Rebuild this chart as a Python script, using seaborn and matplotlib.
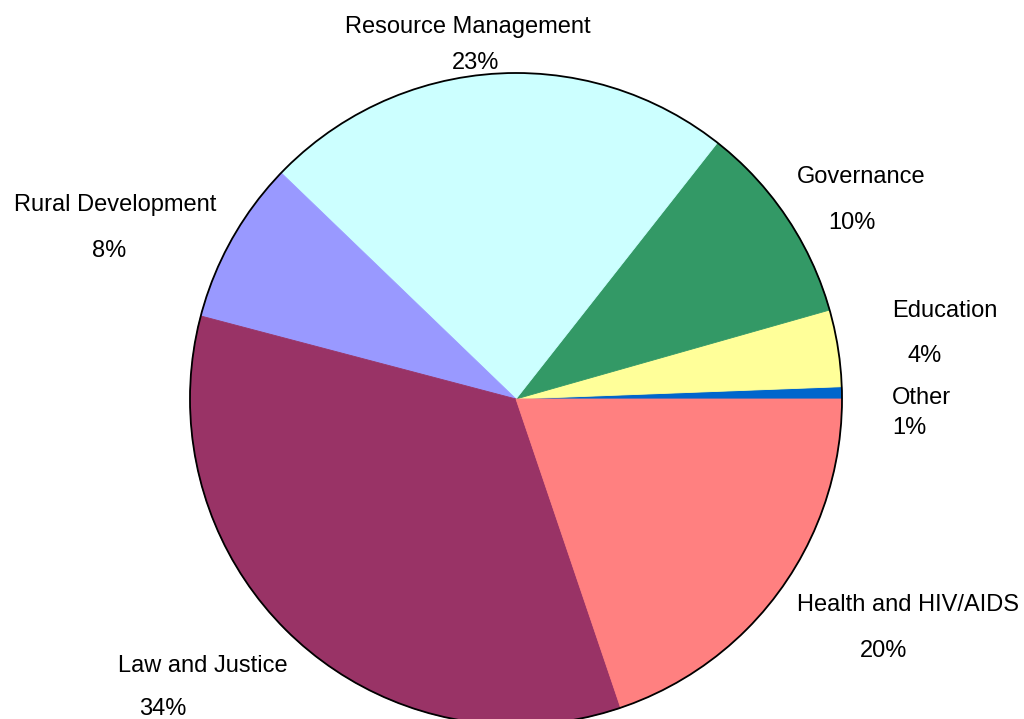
import matplotlib
matplotlib.use("Agg")
import matplotlib.pyplot as plt
from matplotlib.patches import Circle
import seaborn as sns

# ---- data (counter-clockwise from 3 o'clock) ----
categories = ["Other", "Education", "Governance", "Resource Management",
              "Rural Development", "Law and Justice", "Health and HIV/AIDS"]
shares = [0.6, 3.8, 10.0, 23.4, 8.1, 34.3, 19.8]
colors = ["#0066CC", "#FFFF99", "#339966", "#CCFFFF",
          "#9999FF", "#993366", "#FF8080"]

# label layout (data units, pie radius = 1): name centre, percent centre
name_pos = [(1.245, 0.002), (1.316, 0.269), (1.058, 0.680), (-0.147, 1.140),
            (-1.230, 0.594), (-0.960, -0.820), (1.202, -0.633)]
pct_pos = [(1.206, -0.090), (1.252, 0.131), (1.031, 0.539), (-0.123, 1.030),
           (-1.248, 0.453), (-1.083, -0.952), (1.126, -0.774)]

sns.set_theme(style="white")
plt.rcParams["font.family"] = ["Liberation Sans", "DejaVu Sans"]

fig = plt.figure(figsize=(10.24, 7.19), dpi=100)
ax = fig.add_axes([0, 0, 1, 1])

wedges, _ = ax.pie(shares, colors=colors, startangle=0, counterclock=True,
                   radius=1, center=(0, 0),
                   wedgeprops=dict(linewidth=0.6))
for w in wedges:
    w.set_edgecolor(w.get_facecolor())

ax.add_patch(Circle((0, 0), 1, fill=False, edgecolor="black", linewidth=1.3, zorder=5))

total = sum(shares)
for cat, v, (nx, ny), (px, py) in zip(categories, shares, name_pos, pct_pos):
    ax.text(nx, ny, cat, ha="center", va="center", fontsize=17, color="black")
    ax.text(px, py, f"{v / total * 100:.0f}%", ha="center", va="center",
            fontsize=17, color="black")

r_px = 326.0
cx, cy = 516.0, 399.0
ax.set_xlim(-cx / r_px, (1024 - cx) / r_px)
ax.set_ylim(-(719 - cy) / r_px, cy / r_px)
ax.set_aspect("auto")
ax.axis("off")

fig.savefig("out.png", dpi=100, facecolor="white")
